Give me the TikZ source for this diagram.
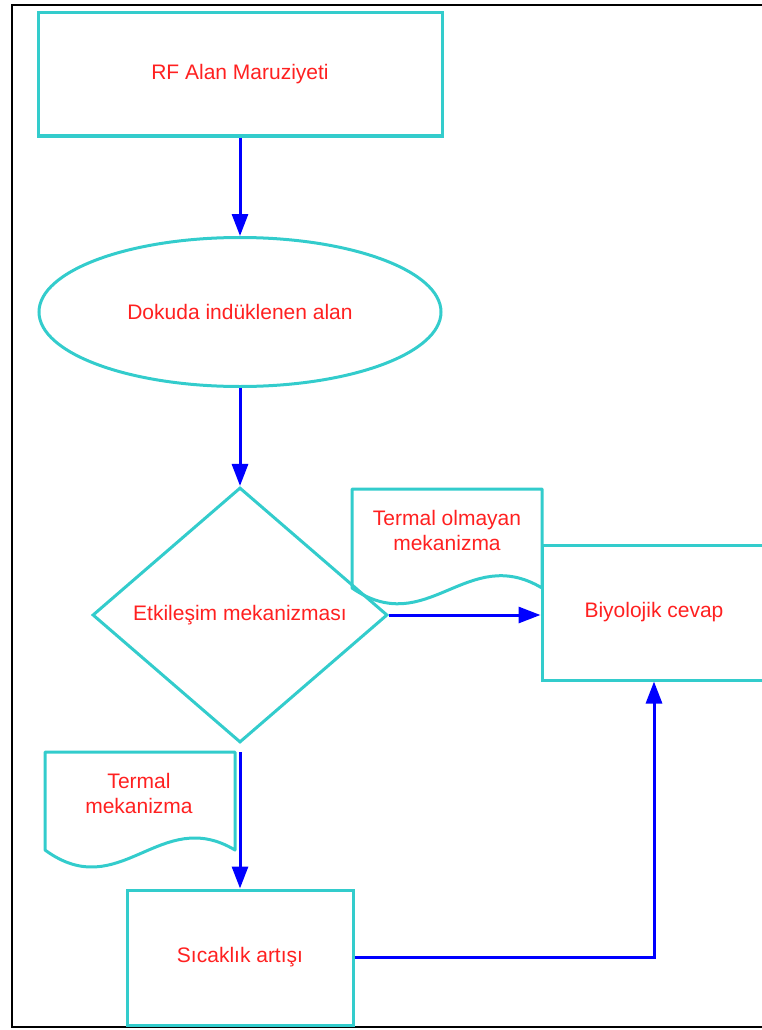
\documentclass[tikz,border=0pt]{standalone}
\usepackage{fontspec}
\setmainfont{Liberation Sans}
\usepackage{tikz}
\usetikzlibrary{arrows.meta}
\usetikzlibrary{shapes.geometric}

\definecolor{flowcyan}{RGB}{51,204,204}
\definecolor{flowred}{RGB}{255,32,32}

\begin{document}
\begin{tikzpicture}[x=1pt, y=-1pt, line width=3pt,
    every node/.style={text=flowred, font=\fontsize{21}{25}\selectfont, align=center},
    box/.style={shape=rectangle, draw=flowcyan},
    outline/.style={draw=flowcyan, line join=round},
    flow/.style={draw=blue, -{Triangle[length=22pt,width=16pt]}}]
    \useasboundingbox (0,0) rectangle (762,1030);
    \clip (0,0) rectangle (762,1030);
    \draw[black, line width=2pt] (12,5) rectangle (800,1027);
    \node[box, minimum width=404, minimum height=123] (R) at (240,74.5) {RF Alan Maruziyeti};
    \node[shape=ellipse, draw=flowcyan, minimum width=402, minimum height=149] (D) at (240,312) {Dokuda indüklenen alan};
    \node[shape=diamond, draw=flowcyan, inner sep=0, minimum width=295, minimum height=255] (E) at (240,615) {Etkileşim mekanizması};
    \node[box, minimum width=224, minimum height=135] (B) at (654,612.5) {Biyolojik cevap};
    \node[box, minimum width=226, minimum height=135] (S) at (240,957.5) {Sıcaklık artışı};
    \draw[outline] (352,588) -- (352,489) -- (542,489) -- (542,588) .. controls (467,543) and (427,640) .. cycle;
    \node (N) at (447,530.5) {Termal olmayan\\mekanizma};
    \draw[outline] (45,850) -- (45,752) -- (235,752) -- (235,850) .. controls (160,805) and (120,905) .. cycle;
    \node (T) at (139,793.5) {Termal\\mekanizma};
    \draw[flow] (R) -- (D);
    \draw[flow] (D) -- (E);
    \draw[flow] (E.east) -- (E.east -| B.west);
    \draw[flow, shorten <=8pt] (E) -- (S);
    \draw[flow] (S) -| (B);
\end{tikzpicture}
\end{document}
